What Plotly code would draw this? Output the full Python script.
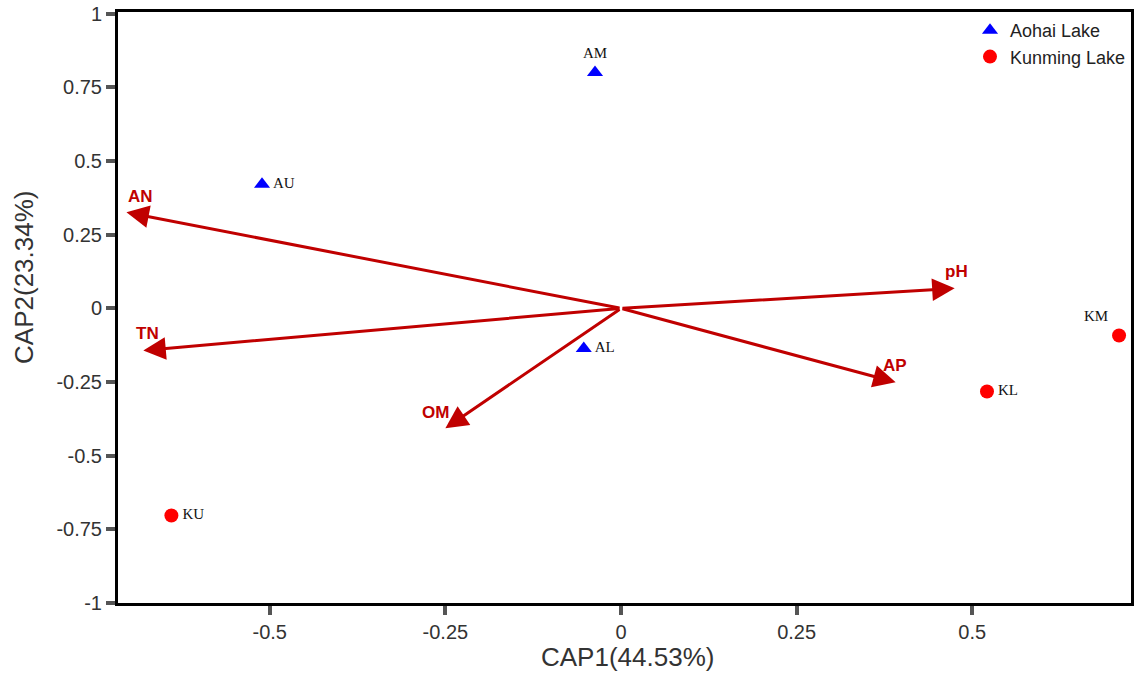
import plotly.graph_objects as go

# Samples
sample_names = ["AM", "AU", "AL", "KU", "KL", "KM"]
sample_x = [-0.037, -0.511, -0.053, -0.640, 0.521, 0.709]
sample_y = [0.801, 0.421, -0.136, -0.703, -0.282, -0.092]
sample_group = ["Aohai Lake", "Aohai Lake", "Aohai Lake", "Kunming Lake", "Kunming Lake", "Kunming Lake"]

# Environmental vectors
env_names = ["AN", "TN", "pH", "AP", "OM"]
env_x = [-0.704, -0.680, 0.475, 0.391, -0.250]
env_y = [0.326, -0.143, 0.068, -0.251, -0.407]

# Axis labels / ticks
x_title = "CAP1(44.53%)"
y_title = "CAP2(23.34%)"
x_ticks = [-0.5, -0.25, 0, 0.25, 0.5]
x_ticktext = ["-0.5", "-0.25", "0", "0.25", "0.5"]
y_ticks = [-1, -0.75, -0.5, -0.25, 0, 0.25, 0.5, 0.75, 1]
y_ticktext = ["-1", "-0.75", "-0.5", "-0.25", "0", "0.25", "0.5", "0.75", "1"]

groups = ["Aohai Lake", "Kunming Lake"]
group_style = {
    "Aohai Lake": dict(symbol="triangle-up", color="#0000FF", size=14),
    "Kunming Lake": dict(symbol="circle", color="#FF0000", size=14),
}
label_pos = {"AM": "top center", "KM": "top left"}

ARROW = "#C00000"

fig = go.Figure()

for g in groups:
    idx = [i for i, gg in enumerate(sample_group) if gg == g]
    st = group_style[g]
    fig.add_trace(go.Scatter(
        x=[sample_x[i] for i in idx], y=[sample_y[i] for i in idx],
        mode="markers", name=g,
        marker=dict(symbol=st["symbol"], color=st["color"], size=st["size"], line=dict(width=0)),
    ))
    fig.add_trace(go.Scatter(
        x=[sample_x[i] for i in idx], y=[sample_y[i] for i in idx],
        mode="markers+text", showlegend=False,
        marker=dict(size=16, color="rgba(0,0,0,0)"),
        text=[sample_names[i] for i in idx],
        textposition=[label_pos.get(sample_names[i], "middle right") for i in idx],
        textfont=dict(family="Liberation Serif", size=15, color="#111111"),
    ))

label_shift = {"AN": (14, 16), "TN": (4, 17), "pH": (2, 17), "AP": (-1, 17), "OM": (-10, 16)}
for n, ex, ey in zip(env_names, env_x, env_y):
    fig.add_annotation(x=ex, y=ey, ax=0, ay=0, xref="x", yref="y", axref="x", ayref="y",
                       text="", showarrow=True, arrowhead=2, arrowsize=1.5, arrowwidth=3,
                       arrowcolor=ARROW, standoff=0)
    dx, dy = label_shift[n]
    fig.add_annotation(x=ex, y=ey, xref="x", yref="y", text="<b>%s</b>" % n, showarrow=False,
                       xshift=dx, yshift=dy,
                       font=dict(family="Liberation Sans", size=17, color=ARROW))

# Axis titles as annotations for precise placement
fig.add_annotation(x=0.5, y=0, xref="paper", yref="paper", text=x_title, showarrow=False,
                   xanchor="center", yanchor="middle", yshift=-54, xshift=3,
                   font=dict(family="Liberation Sans", size=26, color="#333333"))
fig.add_annotation(x=0, y=0.55, xref="paper", yref="paper", text=y_title, showarrow=False,
                   xanchor="center", yanchor="middle", xshift=-94, textangle=-90,
                   font=dict(family="Liberation Sans", size=26, color="#333333"))

axis_common = dict(
    showgrid=False, zeroline=False, showline=True, linecolor="black", linewidth=3, mirror=True,
    ticks="outside", ticklen=9, tickwidth=4, tickcolor="#555555", automargin=False,
    tickfont=dict(family="Liberation Sans", size=20, color="#333333"),
)

fig.update_layout(
    width=1142, height=676,
    margin=dict(l=118, r=11, t=12, b=73),
    plot_bgcolor="white", paper_bgcolor="white",
    xaxis=dict(range=[-0.716, 0.726], tickvals=x_ticks, ticktext=x_ticktext, **axis_common),
    yaxis=dict(range=[-1, 1.006], tickvals=y_ticks, ticktext=y_ticktext, **axis_common),
    legend=dict(x=1.0, y=1.0, xanchor="right", yanchor="top", bgcolor="rgba(0,0,0,0)",
                font=dict(family="Liberation Sans", size=18, color="#222222"),
                itemsizing="trace", tracegroupgap=0, itemwidth=30),
    showlegend=True,
)

fig.write_html("out.html")
